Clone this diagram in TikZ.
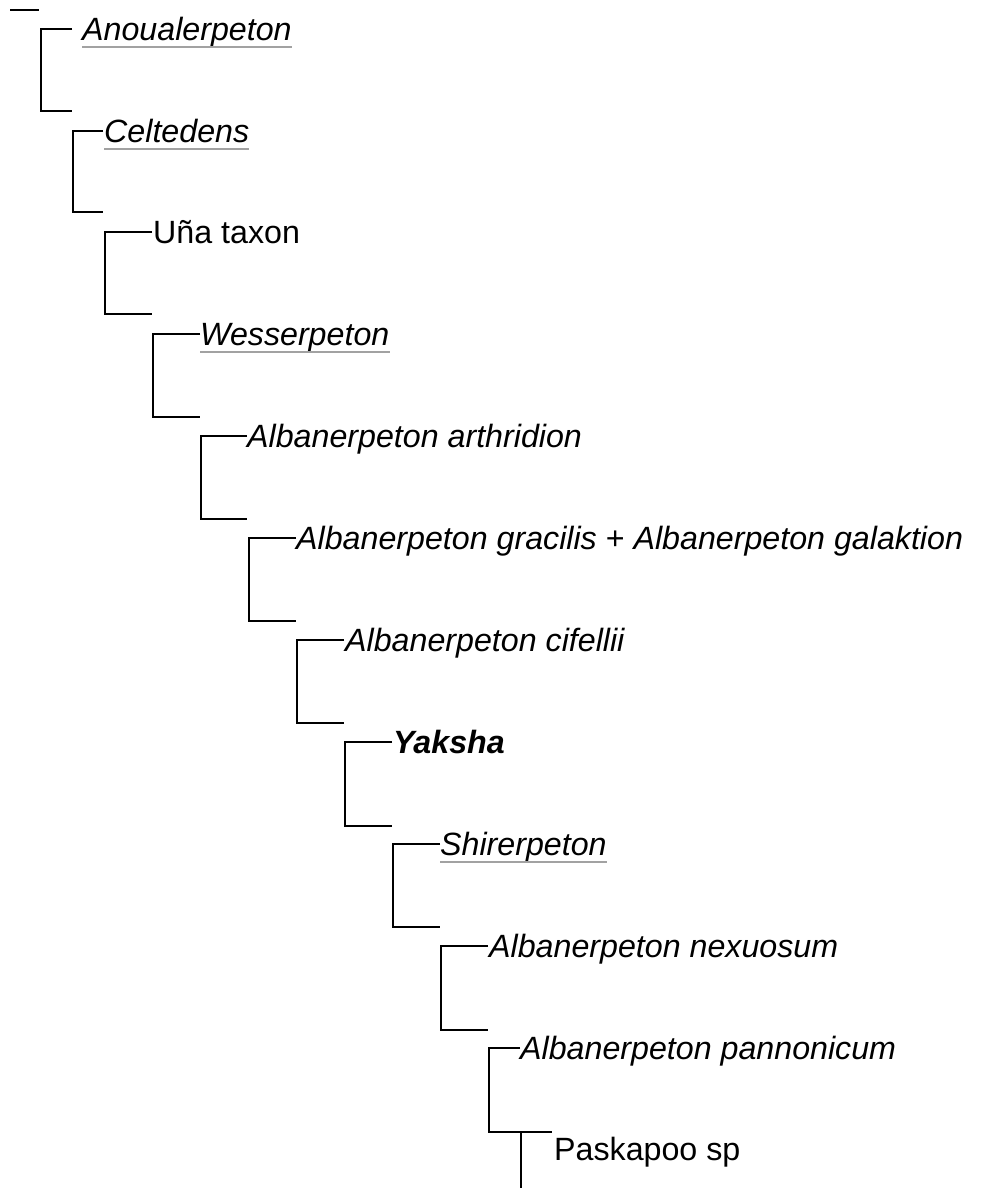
\documentclass[tikz,border=0pt]{standalone}
\usepackage{fontspec}
\setmainfont{Liberation Sans}
\definecolor{ulgrey}{HTML}{A2A2A2}
\begin{document}
\begin{tikzpicture}[x=1pt,y=-1pt,
  branch/.style={draw=black,line width=2.2pt,line join=miter},
  taxon/.style={anchor=base west,inner sep=0pt,font=\fontsize{32.2}{38}\selectfont},
  ul/.style={draw=ulgrey,line width=2.2pt}]
\useasboundingbox (0,0) rectangle (985,1188);
% bracket coordinates: vertical x, top y, bottom y, end x
\coordinate (r0) at (10,10);   \coordinate (r1) at (39,10);
\coordinate (t1) at (41,29);   \coordinate (b1) at (41,111);  \coordinate (te1) at (72,29);  \coordinate (be1) at (72,111);
\coordinate (t2) at (73,131);  \coordinate (b2) at (73,212);  \coordinate (te2) at (103,131); \coordinate (be2) at (103,212);
\coordinate (t3) at (105,232); \coordinate (b3) at (105,314); \coordinate (te3) at (152,232); \coordinate (be3) at (152,314);
\coordinate (t4) at (153,334); \coordinate (b4) at (153,417); \coordinate (te4) at (200,334); \coordinate (be4) at (200,417);
\coordinate (t5) at (201,436); \coordinate (b5) at (201,519); \coordinate (te5) at (247,436); \coordinate (be5) at (247,519);
\coordinate (t6) at (249,538); \coordinate (b6) at (249,621); \coordinate (te6) at (296,538); \coordinate (be6) at (296,621);
\coordinate (t7) at (297,640); \coordinate (b7) at (297,723); \coordinate (te7) at (344,640); \coordinate (be7) at (344,723);
\coordinate (t8) at (345,742); \coordinate (b8) at (345,826); \coordinate (te8) at (392,742); \coordinate (be8) at (392,826);
\coordinate (t9) at (393,844); \coordinate (b9) at (393,927); \coordinate (te9) at (440,844); \coordinate (be9) at (440,927);
\coordinate (t10) at (441,946); \coordinate (b10) at (441,1030); \coordinate (te10) at (488,946); \coordinate (be10) at (488,1030);
\coordinate (t11) at (489,1048); \coordinate (b11) at (489,1132); \coordinate (te11) at (520,1048); \coordinate (be11) at (552,1132);
\coordinate (t12) at (521,1132); \coordinate (b12) at (521,1188);
% root stub
\draw[branch] (r0) -- (r1);
% brackets
\foreach \i in {1,...,11}{
  \draw[branch] (te\i) -- (t\i) -- (b\i) -- (be\i);
}
\draw[branch] (t12) -- (b12);
% taxa
\node[taxon] (n1) at (82,40.5) {\itshape Anoualerpeton};
\node[taxon] (n2) at (104,142.5) {\itshape Celtedens};
\node[taxon] (n3) at (153,243.5) {Uña taxon};
\node[taxon] (n4) at (200,345.5) {\itshape Wesserpeton};
\node[taxon] (n5) at (247,447.5) {\itshape Albanerpeton arthridion};
\node[taxon] (n6) at (296,549.5) {\itshape Albanerpeton gracilis\/ \upshape + \itshape Albanerpeton galaktion};
\node[taxon] (n7) at (345,651.5) {\itshape Albanerpeton cifellii};
\node[taxon] (n8) at (393,753.5) {\bfseries\itshape Yaksha};
\node[taxon] (n9) at (440,855.5) {\itshape Shirerpeton};
\node[taxon] (n10) at (489,957.5) {\itshape Albanerpeton nexuosum};
\node[taxon] (n11) at (520,1059.5) {\itshape Albanerpeton pannonicum};
\node[taxon] (n12) at (554,1160) {Paskapoo sp};
% grey underlines (links)
\foreach \n in {n1,n2,n4,n9}{
  \draw[ul] ([yshift=-6.5pt]\n.base west) -- ([yshift=-6.5pt]\n.base east);
}
\end{tikzpicture}
\end{document}
